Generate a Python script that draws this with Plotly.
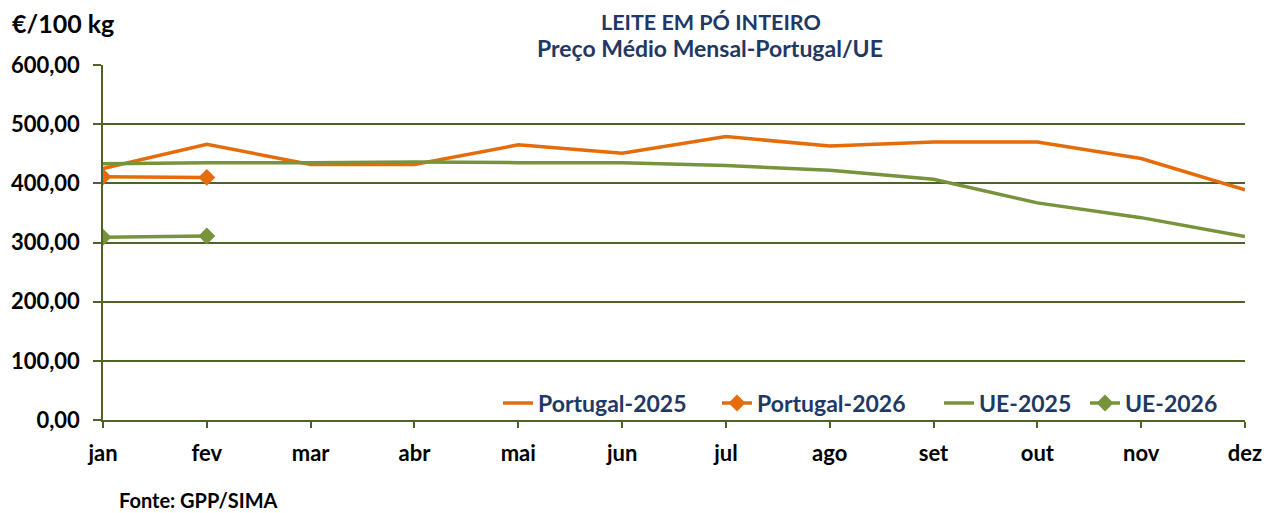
import plotly.graph_objects as go

months = ["jan", "fev", "mar", "abr", "mai", "jun", "jul", "ago", "set", "out", "nov", "dez"]
portugal_2025 = [425, 466, 432, 432, 465, 451, 479, 463, 470, 470, 442, 389]
portugal_2026 = [411, 410]
ue_2025 = [433, 435, 435, 436, 435, 435, 430, 422, 407, 367, 342, 310]
ue_2026 = [309, 311]
y_ticks = [0, 100, 200, 300, 400, 500, 600]

ORANGE = "#E46C0A"
GREEN = "#77933C"
AXIS = "#4F6228"
NAVY = "#1F3864"
FONT = "Lato"

# page body has an 8px margin: figure drawn at (8, 8)
OFF = 8
W, H = 1274 - OFF, 513 - OFF
PL, PR, PT, PB = 103, 1245, 65, 420   # plot area in screen pixels

x_all = list(range(len(months)))


def px2paper(px, py):
    return (px - PL) / (PR - PL), (PB - py) / (PB - PT)


legend_starts = [506, 725, 947, 1093]   # screen x of each legend symbol
LEG_Y = 403

fig = go.Figure()
fig.add_trace(go.Scatter(x=x_all, y=portugal_2025, mode="lines", name="Portugal-2025",
                         line=dict(color=ORANGE, width=3.5), legend="legend"))
fig.add_trace(go.Scatter(x=x_all[:len(portugal_2026)], y=portugal_2026, mode="lines+markers",
                         name="Portugal-2026", line=dict(color=ORANGE, width=3.5),
                         marker=dict(symbol="diamond", size=13, color=ORANGE), legend="legend2"))
fig.add_trace(go.Scatter(x=x_all, y=ue_2025, mode="lines", name="UE-2025",
                         line=dict(color=GREEN, width=3.5), legend="legend3"))
fig.add_trace(go.Scatter(x=x_all[:len(ue_2026)], y=ue_2026, mode="lines+markers",
                         name="UE-2026", line=dict(color=GREEN, width=3.5),
                         marker=dict(symbol="diamond", size=13, color=GREEN), legend="legend4"))


def ann(text, px, py, size, color, xanchor="center"):
    x, y = px2paper(px, py)
    return dict(text=text, x=x, y=y, xref="paper", yref="paper", showarrow=False,
                xanchor=xanchor, yanchor="middle",
                font=dict(size=size, color=color, family=FONT))


def legend_cfg(px):
    x, y = px2paper(px - 8, LEG_Y)
    return dict(orientation="h", x=x, xanchor="left", y=y, yanchor="middle",
                font=dict(family=FONT, size=23, color=NAVY, weight="bold"),
                bgcolor="rgba(0,0,0,0)", itemwidth=30)


fig.update_layout(
    width=W, height=H,
    margin=dict(l=PL - OFF, r=1274 - PR, t=PT - OFF, b=513 - PB),
    paper_bgcolor="white", plot_bgcolor="white",
    separators=",.",
    font=dict(family=FONT, color="black"),
    showlegend=True,
    legend=legend_cfg(legend_starts[0]),
    legend2=legend_cfg(legend_starts[1]),
    legend3=legend_cfg(legend_starts[2]),
    legend4=legend_cfg(legend_starts[3]),
    annotations=[
        ann("<b>LEITE EM PÓ INTEIRO</b>", 711, 22, 21.5, NAVY),
        ann("<b>Preço Médio Mensal-Portugal/UE</b>", 710, 48, 23, NAVY),
        ann("<b>€/100 kg</b>", 10, 23, 25, "black", "left"),
        ann("<b>Fonte: GPP/SIMA</b>", 117, 500, 20, "black", "left"),
    ],
)

fig.update_xaxes(
    range=[0, 11], tickmode="array", tickvals=x_all, ticktext=months,
    showgrid=False, showline=True, linecolor=AXIS, linewidth=1.5,
    ticks="outside", ticklen=6, tickcolor=AXIS, tickwidth=1.5,
    tickfont=dict(size=22, color="black", family=FONT, weight="bold"),
    ticklabelstandoff=7, zeroline=False, automargin=False,
)
fig.update_yaxes(
    range=[0, 600], tickmode="array", tickvals=y_ticks, tickformat=".2f",
    showgrid=True, gridcolor=AXIS, gridwidth=1.5,
    showline=True, linecolor=AXIS, linewidth=1.5,
    ticks="outside", ticklen=8, tickcolor=AXIS, tickwidth=1.5,
    tickfont=dict(size=22, color="black", family=FONT, weight="bold"),
    ticklabelstandoff=9, zeroline=False, automargin=False,
)

fig.write_html("out.html")
